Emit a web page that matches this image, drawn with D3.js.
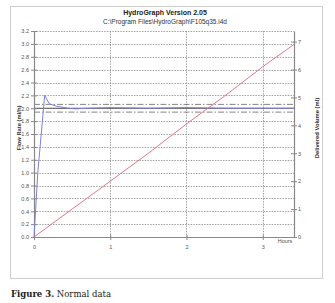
<!DOCTYPE html>
<html><head><meta charset="utf-8">
<script src="https://cdn.jsdelivr.net/npm/d3@7"></script>
<style>body{margin:0;background:#fff}svg{display:block}</style>
</head><body><svg id="c" width="335" height="303"></svg>
<script>
// Data
const flowTicks = [0,0.2,0.4,0.6,0.8,1.0,1.2,1.4,1.6,1.8,2.0,2.2,2.4,2.6,2.8,3.0,3.2];
const volTicks = [0,1,2,3,4,5,6,7];
const hourTicks = [0,1,2,3];
const flowT = [0,0.05,0.14,0.2,0.3,0.45,0.55,0.7,1.0,1.5,2.0,2.5,3.0,3.41];
const flowV = [0,1.0,2.2,2.07,2.03,2.0,1.99,2.0,2.01,2.0,2.01,2.0,2.0,2.0];
const volT = [0,0.5,1,1.5,2,2.5,3,3.41];
const volV = [0,1.0,2.0,3.0,4.05,5.05,6.1,6.9];
const refLines = [2.06,2.0,1.94];
const titleText = "HydroGraph Version 2.05";
const subTitle = "C:\\Program Files\\HydroGraph\\F105q35.i4d";

const svg = d3.select("#c");
const L=34, R=294, T=31, B=237;
const x = d3.scaleLinear().domain([0,3.41]).range([L,R]);
const y = d3.scaleLinear().domain([0,3.2]).range([B,T]);
const y2 = d3.scaleLinear().domain([0,7.38]).range([B,T]);
const font = "Liberation Sans, Arial, sans-serif";

// panel
svg.append("rect").attr("x",10.5).attr("y",6.5).attr("width",312).attr("height",272)
  .attr("fill","#fff").attr("stroke","#d0d0d0").attr("stroke-width",1);

svg.append("text").attr("x",165).attr("y",15).attr("text-anchor","middle")
  .attr("font-family",font).attr("font-size",7).attr("font-weight","bold").attr("fill","#222").text(titleText);
svg.append("text").attr("x",165).attr("y",23.5).attr("text-anchor","middle")
  .attr("font-family",font).attr("font-size",6.5).attr("fill","#333").text(subTitle);

// gridlines
const g = svg.append("g");
g.selectAll(".hg").data(flowTicks.filter(d=>d>0)).join("line")
  .attr("x1",L).attr("x2",R).attr("y1",d=>Math.round(y(d))+0.5).attr("y2",d=>Math.round(y(d))+0.5)
  .attr("stroke","#8a8a8a").attr("stroke-width",0.8).attr("stroke-dasharray","1.5,1.2");
g.selectAll(".vg").data(hourTicks.filter(d=>d>0)).join("line")
  .attr("y1",T).attr("y2",B).attr("x1",d=>Math.round(x(d))+0.5).attr("x2",d=>Math.round(x(d))+0.5)
  .attr("stroke","#8a8a8a").attr("stroke-width",0.8).attr("stroke-dasharray","1.5,1.2");

// reference lines
svg.selectAll(".ref").data(refLines).join("line")
  .attr("x1",L).attr("x2",R).attr("y1",d=>y(d)).attr("y2",d=>y(d))
  .attr("stroke",(d,i)=>i===1?"#555":"#666").attr("stroke-width",(d,i)=>i===1?1:0.8)
  .attr("stroke-dasharray",(d,i)=>i===1?null:"6,2,1.5,2");

// axes
const axL = d3.axisLeft(y).tickValues(flowTicks).tickFormat(d3.format(".1f")).tickSizeInner(3).tickSizeOuter(0).tickPadding(2);
const axR = d3.axisRight(y2).tickValues(volTicks).tickFormat(d3.format("d")).tickSizeInner(3).tickSizeOuter(0).tickPadding(1);
const axB = d3.axisBottom(x).tickValues(hourTicks).tickFormat(d3.format("d")).tickSizeInner(3).tickSizeOuter(0).tickPadding(5);
function style(sel){
  sel.selectAll("path").attr("stroke","#888").attr("stroke-width",1.2);
  sel.selectAll("line").attr("stroke","#888");
  sel.selectAll("text").attr("font-family",font).attr("font-size",5.5).attr("fill","#555");
}
svg.append("g").attr("transform",`translate(${L},0)`).call(axL).call(style)
  .selectAll(".tick line").attr("x1",3);
svg.append("g").attr("transform",`translate(${R},0)`).call(axR).call(style)
  .selectAll(".tick line").attr("x1",-3);
svg.append("g").attr("transform",`translate(0,${B})`).call(axB).call(style)
  .selectAll(".tick line").attr("y1",-2);

// series
const line = d3.line().x(d=>x(d[0]));
svg.append("path").datum(volT.map((t,i)=>[t,volV[i]]))
  .attr("d",line.y(d=>y2(d[1]))).attr("fill","none").attr("stroke","#e07888").attr("stroke-width",1);
svg.append("path").datum(flowT.map((t,i)=>[t,flowV[i]]))
  .attr("d",d3.line().x(d=>x(d[0])).y(d=>y(d[1]))).attr("fill","none").attr("stroke","#8080dd").attr("stroke-width",1);

// axis titles
svg.append("text").attr("transform","translate(20.5,128) rotate(-90)").attr("text-anchor","middle")
  .attr("font-family",font).attr("font-size",5.8).attr("font-weight","bold").attr("fill","#333").text("Flow Rate (ml/h)");
svg.append("text").attr("transform","translate(318.5,128) rotate(-90)").attr("text-anchor","middle")
  .attr("font-family",font).attr("font-size",5.8).attr("font-weight","bold").attr("fill","#333").text("Delivered Volume (ml)");
svg.append("text").attr("x",285).attr("y",243).attr("text-anchor","middle")
  .attr("font-family",font).attr("font-size",5.5).attr("fill","#555").text("Hours");

// caption
const cap = svg.append("text").attr("x",11).attr("y",297).attr("font-family","DejaVu Serif, serif").attr("font-size",8.5).attr("fill","#222");
cap.append("tspan").attr("font-weight","bold").text("Figure 3.");
cap.append("tspan").text(" Normal data");
</script></body></html>
